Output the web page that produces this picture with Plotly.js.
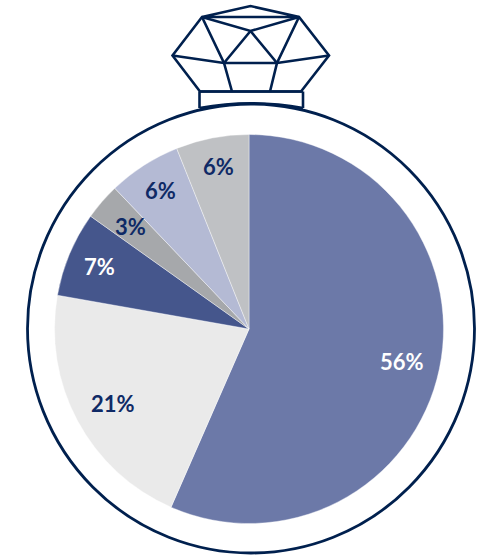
<!DOCTYPE html>
<html>
<head>
<meta charset="utf-8">
<script src="https://cdn.plot.ly/plotly-3.0.1.min.js"></script>
<style>html,body{margin:0;padding:0;background:#fff}#chart{width:480px;height:555px}</style>
</head>
<body>
<div id="chart"></div>
<script>
// Slice values in drawing order, clockwise from twelve o'clock
const sliceNames = ['A', 'B', 'C', 'D', 'E', 'F'];
const sliceValues = [56, 21, 7, 3, 6, 6];
const sliceColors = ['#6C79A8', '#EAEAEA', '#45568C', '#A6A8AB', '#B4BAD4', '#BFC1C4'];
const labelColors = ['#FFFFFF', '#0F2A66', '#FFFFFF', '#0F2A66', '#0F2A66', '#0F2A66'];

const W = 480, H = 555;
const NAVY = '#00204E';

// Pie geometry in page pixels
const pieCx = 249, pieCy = 329, pieR = 194.5;

// How far out along its slice each value label sits, as a share of the radius
const labelReach = [0.80, 0.80, 0.84, 0.81, 0.85, 0.855];

// Gemstone outline on top of the ring, null separates strokes
const gemX = [202,250.5,299,329,301,200,172.5,202,299, null, 202,250.5,299, null, 250.5,224,277,250.5, null,
              202,224,232, null, 299,277,270, null, 172.5,224, null, 329,277, null, 199.5,199.5, null, 303,303, null, 199.5,303];
const gemY = [17,6,17,55.5,91.5,91.5,55.5,17,17, null, 17,31,17, null, 31,63,63,31, null,
              17,63,91.5, null, 17,63,91.5, null, 55.5,63, null, 55.5,63, null, 91.5,108, null, 91.5,108, null, 91.5,91.5];

const total = sliceValues.reduce((a, b) => a + b, 0);
let running = 0;
const annotations = sliceValues.map((v, i) => {
  const mid = (running + v / 2) / total * 2 * Math.PI;
  running += v;
  return {
    x: pieCx + labelReach[i] * pieR * Math.sin(mid) + 1,
    y: pieCy - labelReach[i] * pieR * Math.cos(mid) + 1,
    xref: 'x', yref: 'y', showarrow: false,
    text: '<b>' + v + '%</b>',
    font: {family: 'Lato, sans-serif', size: 22, color: labelColors[i]}
  };
});

const traces = [
  {
    type: 'scatter', mode: 'lines', x: gemX, y: gemY, hoverinfo: 'skip',
    line: {color: NAVY, width: 2.6}, showlegend: false, connectgaps: false
  },
  {
    type: 'pie', labels: sliceNames, values: sliceValues, sort: false,
    direction: 'clockwise', rotation: 0, textinfo: 'none',
    marker: {colors: sliceColors, line: {color: '#FFFFFF', width: 0.4}},
    domain: {x: [(pieCx - pieR) / W, (pieCx + pieR) / W], y: [1 - (pieCy + pieR) / H, 1 - (pieCy - pieR) / H]},
    showlegend: false
  }
];

const layout = {
  width: W, height: H,
  margin: {l: 0, r: 0, t: 0, b: 0},
  paper_bgcolor: '#fff', plot_bgcolor: 'rgba(0,0,0,0)',
  showlegend: false,
  xaxis: {range: [0, W], visible: false, fixedrange: true},
  yaxis: {range: [H, 0], visible: false, fixedrange: true},
  shapes: [
    {type: 'circle', xref: 'x', yref: 'y', x0: 27.5, x1: 474.5, y0: 104, y1: 553,
     line: {color: NAVY, width: 2.8}, fillcolor: 'rgba(0,0,0,0)', layer: 'below'},
    // Curved underside of the setting where it meets the ring
    {type: 'path', xref: 'x', yref: 'y', path: 'M199.5,108 Q251,98.5 303,108',
     line: {color: NAVY, width: 2.4}, layer: 'below'}
  ],
  annotations: annotations
};

Plotly.newPlot('chart', traces, layout, {staticPlot: true, displayModeBar: false});
</script>
</body>
</html>
